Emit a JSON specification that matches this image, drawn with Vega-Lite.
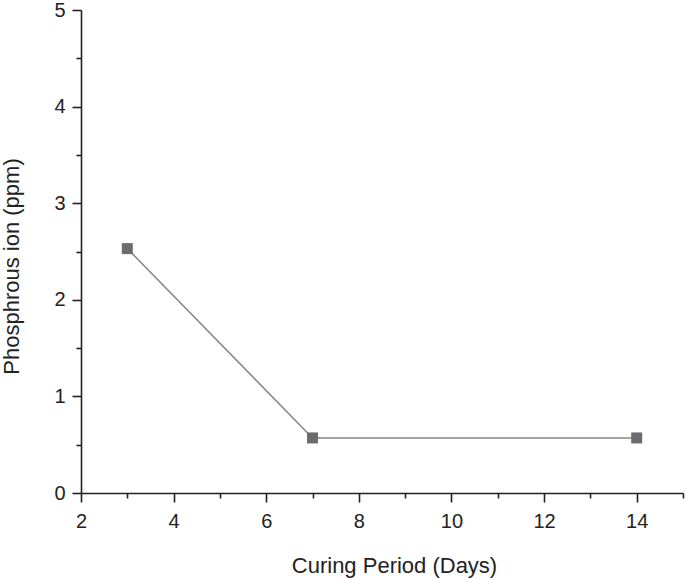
{
  "$schema": "https://vega.github.io/schema/vega-lite/v6.json",
  "width": 602,
  "height": 483,
  "autosize": "none",
  "padding": {"left": 81, "top": 10, "right": 2, "bottom": 87},
  "background": "white",
  "config": {
    "view": {"stroke": null},
    "font": "Liberation Sans"
  },
  "data": {"values": [
    {"day": 3, "p": 2.53},
    {"day": 7, "p": 0.57},
    {"day": 14, "p": 0.57}
  ]},
  "layer": [
    {
      "mark": {"type": "line", "color": "#868686", "strokeWidth": 1.5},
      "encoding": {
        "x": {"field": "day", "type": "quantitative", "scale": {"domain": [2, 15], "nice": false, "zero": false},
          "axis": {"values": [2, 4, 6, 8, 10, 12, 14], "title": "Curing Period (Days)", "grid": false,
            "domainColor": "#222222", "domainWidth": 1.6, "tickColor": "#222222", "tickWidth": 1.6, "tickSize": 9,
            "labelFontSize": 20, "labelColor": "#222222", "labelPadding": 9, "labelFlush": false,
            "titleFontSize": 22, "titleFontWeight": "normal", "titleColor": "#222222", "titlePadding": 24, "titleX": 313}},
        "y": {"field": "p", "type": "quantitative", "scale": {"domain": [0, 5], "nice": false},
          "axis": {"values": [0, 1, 2, 3, 4, 5], "title": "Phosphrous ion (ppm)", "grid": false,
            "domainColor": "#222222", "domainWidth": 1.6, "tickColor": "#222222", "tickWidth": 1.6, "tickSize": 9,
            "labelFontSize": 20, "labelColor": "#222222", "labelPadding": 7, "labelFlush": false,
            "titleFontSize": 22, "titleFontWeight": "normal", "titleColor": "#222222", "titlePadding": 30, "titleY": 256}}
      }
    },
    {
      "mark": {"type": "point", "shape": "square", "filled": true, "size": 121, "color": "#6b6b70", "opacity": 1},
      "encoding": {
        "x": {"field": "day", "type": "quantitative", "scale": {"domain": [2, 15], "nice": false, "zero": false},
          "axis": {"orient": "bottom", "values": [3, 5, 7, 9, 11, 13, 15], "labels": false, "title": null, "grid": false, "domain": false,
            "tickColor": "#222222", "tickWidth": 1.6, "tickSize": 5}},
        "y": {"field": "p", "type": "quantitative", "scale": {"domain": [0, 5], "nice": false},
          "axis": {"orient": "left", "values": [0.5, 1.5, 2.5, 3.5, 4.5], "labels": false, "title": null, "grid": false, "domain": false,
            "tickColor": "#222222", "tickWidth": 1.6, "tickSize": 5}}
      }
    }
  ],
  "resolve": {"axis": {"x": "independent", "y": "independent"}}
}
